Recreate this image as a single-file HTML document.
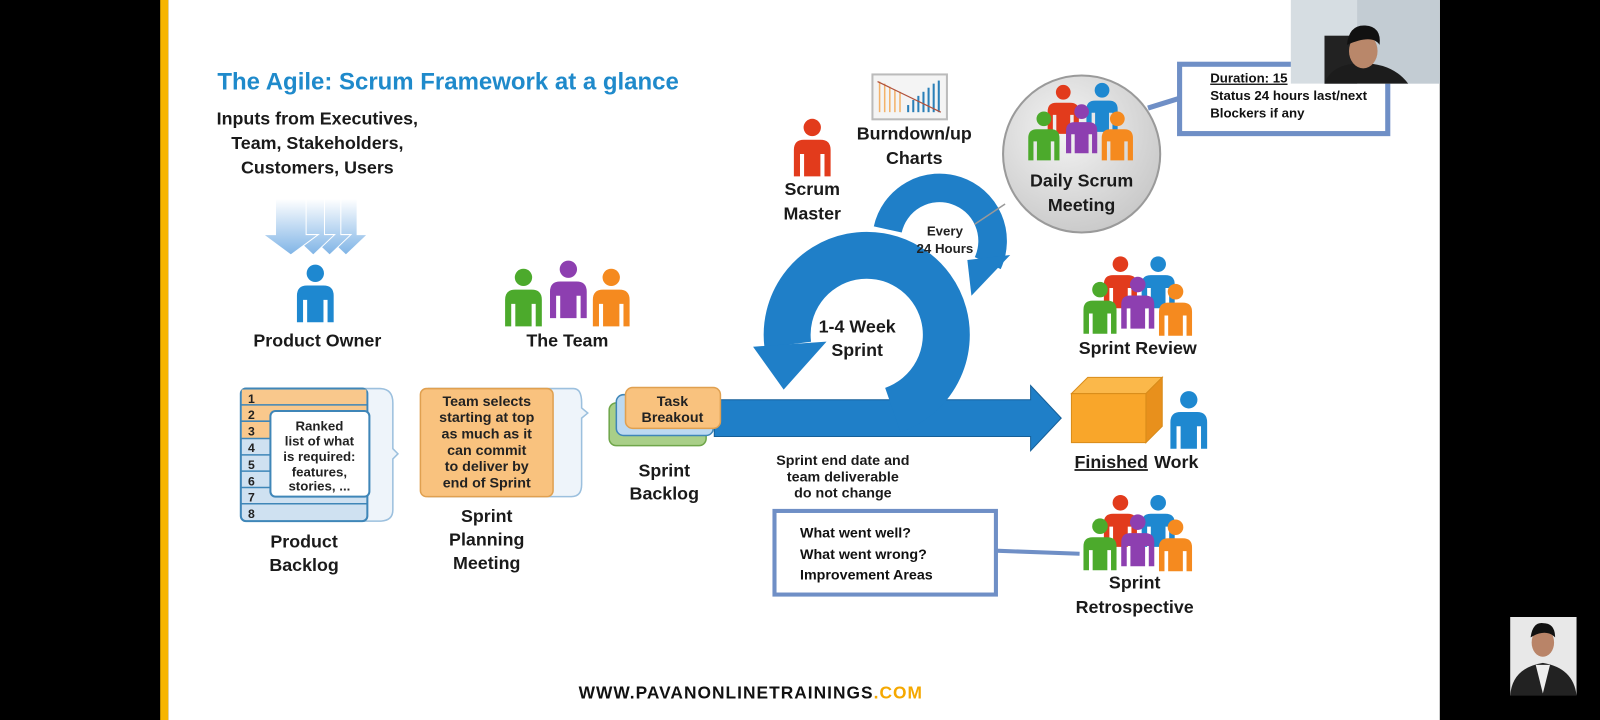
<!DOCTYPE html>
<html><head><meta charset="utf-8"><style>
html,body{margin:0;padding:0;background:#000;width:1600px;height:720px;overflow:hidden}
svg{display:block}
text{font-family:"Liberation Sans",sans-serif;font-weight:bold}
</style></head><body>
<svg width="1600" height="720" viewBox="0 0 1568 706" preserveAspectRatio="none" xmlns="http://www.w3.org/2000/svg">
<defs>
<symbol id="p" viewBox="-20 -10 40 60" overflow="visible">
<circle cx="0" cy="0" r="8.5"/>
<path d="M-18,48 V22 Q-18,12 -8,12 H8 Q18,12 18,22 V48 H12 V26 H8 V48 H-8 V26 H-12 V48 Z"/>
</symbol>
<linearGradient id="arr" x1="0" y1="0" x2="0" y2="1"><stop offset="0" stop-color="#fff"/><stop offset="1" stop-color="#7fb4e6"/></linearGradient>
<radialGradient id="gc" cx="0.4" cy="0.35" r="0.7"><stop offset="0" stop-color="#f4f4f4"/><stop offset="1" stop-color="#c8c8c8"/></radialGradient>
</defs>
<rect x="0" y="0" width="1568" height="706" fill="#000"/>
<rect x="157" y="0" width="8" height="706" fill="#f7b500"/>
<rect x="165" y="0" width="1246" height="706" fill="#fff"/>

<text x="213" y="88" font-size="23.5" fill="#1f8acb">The Agile: Scrum Framework at a glance</text>
<g font-size="17.5" fill="#1a1a1a" text-anchor="middle">
<text x="311" y="122">Inputs from Executives,</text>
<text x="311" y="146">Team, Stakeholders,</text>
<text x="311" y="170">Customers, Users</text>
</g>
<!-- input arrows -->
<g fill="url(#arr)" stroke="#fff" stroke-width="1">
<path d="M328,195 h22 v35 h10 l-21,20 l-21,-20 h10z"/>
<path d="M312,195 h22 v35 h10 l-21,20 l-21,-20 h10z"/>
<path d="M296,195 h22 v35 h10 l-21,20 l-21,-20 h10z"/>
<path d="M270,195 h30 v35 h12 l-27,20 l-27,-20 h12z"/>
</g>
<use href="#p" x="289" y="258" width="40" height="60" fill="#1e88d0"/>
<text x="311" y="340" font-size="17.5" text-anchor="middle" fill="#1a1a1a">Product Owner</text>

<use href="#p" x="537" y="254" width="40" height="60" fill="#8d3fb0"/>
<use href="#p" x="493" y="262" width="40" height="60" fill="#4caa2c"/>
<use href="#p" x="579" y="262" width="40" height="60" fill="#f58a1f"/>
<text x="556" y="340" font-size="17.5" text-anchor="middle" fill="#1a1a1a">The Team</text>

<!-- product backlog -->
<path d="M240,381 H372 Q385,381 385,395 V440 L390,445 L385,450 V500 Q385,511 372,511 H240z" fill="#eef4fa" stroke="#9cc0de" stroke-width="1.5"/>
<rect x="236" y="381" width="124" height="130" rx="5" fill="#cfe1f1" stroke="#3f86b8" stroke-width="2"/>
<rect x="237" y="382" width="122" height="48" fill="#f9c88c"/>
<g stroke="#3f86b8" stroke-width="1.5">
<line x1="236" y1="397" x2="360" y2="397"/><line x1="236" y1="413" x2="360" y2="413"/><line x1="236" y1="430" x2="360" y2="430"/>
<line x1="236" y1="446" x2="360" y2="446"/><line x1="236" y1="462" x2="360" y2="462"/><line x1="236" y1="478" x2="360" y2="478"/><line x1="236" y1="494" x2="360" y2="494"/>
</g>
<g font-size="12" fill="#222">
<text x="243" y="395" font-weight="normal">1</text><text x="243" y="411" font-weight="normal">2</text><text x="243" y="427" font-weight="normal">3</text><text x="243" y="443" font-weight="normal">4</text><text x="243" y="460" font-weight="normal">5</text><text x="243" y="476" font-weight="normal">6</text><text x="243" y="492" font-weight="normal">7</text><text x="243" y="508" font-weight="normal">8</text>
</g>
<rect x="265" y="403" width="97" height="84" rx="5" fill="#fff" stroke="#3f86b8" stroke-width="2"/>
<g font-size="13" fill="#222" text-anchor="middle">
<text x="313" y="422" font-weight="normal">Ranked</text><text x="313" y="437" font-weight="normal">list of what</text><text x="313" y="452" font-weight="normal">is required:</text><text x="313" y="467" font-weight="normal">features,</text><text x="313" y="481" font-weight="normal">stories, ...</text>
</g>
<text x="298" y="537" font-size="17.5" text-anchor="middle" fill="#1a1a1a">Product</text>
<text x="298" y="560" font-size="17.5" text-anchor="middle" fill="#1a1a1a">Backlog</text>

<!-- sprint planning -->
<path d="M420,381 H562 Q570,381 570,395 V400 L576,405 L570,410 V475 Q570,487 560,487 H420z" fill="#eef4fa" stroke="#9cc0de" stroke-width="1.5"/>
<rect x="412" y="381" width="130" height="106" rx="6" fill="#f9c27e" stroke="#e0a050" stroke-width="1.5"/>
<g font-size="14" fill="#222" text-anchor="middle">
<text x="477" y="398" font-weight="normal">Team selects</text><text x="477" y="414" font-weight="normal">starting at top</text><text x="477" y="430" font-weight="normal">as much as it</text><text x="477" y="446" font-weight="normal">can commit</text><text x="477" y="462" font-weight="normal">to deliver by</text><text x="477" y="478" font-weight="normal">end of Sprint</text>
</g>
<g font-size="17.5" fill="#1a1a1a" text-anchor="middle"><text x="477" y="512">Sprint</text><text x="477" y="535">Planning</text><text x="477" y="558">Meeting</text></g>

<!-- big loop & arrow -->
<path d="M700,392 H1010 V378 L1040,410 L1010,442 V428 H700z" fill="#1f7fc8" stroke="#155f98" stroke-width="1"/>
<path d="M875,402 A78,78 0 1 0 772,338" fill="none" stroke="#1f7fc8" stroke-width="46"/>
<path d="M738,340 L810,335 L768,382z" fill="#1f7fc8"/>
<path d="M870,225 A52,52 0 1 1 968,258" fill="none" stroke="#1f7fc8" stroke-width="28"/>
<path d="M948,255 L990,250 L952,290z" fill="#1f7fc8"/>
<line x1="985" y1="200" x2="955" y2="220" stroke="#999" stroke-width="1.5"/>
<text x="926" y="231" font-size="13" text-anchor="middle" fill="#222">Every</text>
<text x="926" y="248" font-size="13" text-anchor="middle" fill="#222">24 Hours</text>
<text x="840" y="326" font-size="17.5" text-anchor="middle" fill="#1a1a1a">1-4 Week</text>
<text x="840" y="349" font-size="17.5" text-anchor="middle" fill="#1a1a1a">Sprint</text>

<!-- sprint backlog -->
<rect x="597" y="395" width="95" height="42" rx="7" fill="#a9cf88" stroke="#6fa64a" stroke-width="1.5"/>
<rect x="604" y="387" width="95" height="40" rx="7" fill="#bcd9f2" stroke="#3f86b8" stroke-width="1.5"/>
<rect x="613" y="380" width="93" height="40" rx="7" fill="#f9c27e" stroke="#e0a050" stroke-width="1.5"/>
<text x="659" y="398" font-size="14" text-anchor="middle" fill="#222" font-weight="normal">Task</text>
<text x="659" y="414" font-size="14" text-anchor="middle" fill="#222" font-weight="normal">Breakout</text>
<text x="651" y="467" font-size="17.5" text-anchor="middle" fill="#1a1a1a">Sprint</text>
<text x="651" y="490" font-size="17.5" text-anchor="middle" fill="#1a1a1a">Backlog</text>

<g font-size="14" fill="#1a1a1a" text-anchor="middle"><text x="826" y="456">Sprint end date and</text><text x="826" y="472">team deliverable</text><text x="826" y="488">do not change</text></g>

<!-- scrum master / charts -->
<use href="#p" x="776" y="115" width="40" height="60" fill="#e23b1c"/>
<text x="796" y="191" font-size="17.5" text-anchor="middle" fill="#1a1a1a">Scrum</text>
<text x="796" y="215" font-size="17.5" text-anchor="middle" fill="#1a1a1a">Master</text>
<rect x="855" y="73" width="73" height="44" fill="#f4f4f4" stroke="#bbb" stroke-width="2"/>
<g stroke="#f3b26a" stroke-width="1.5"><line x1="862" y1="80" x2="862" y2="110"/><line x1="867" y1="82" x2="867" y2="110"/><line x1="872" y1="85" x2="872" y2="110"/><line x1="877" y1="88" x2="877" y2="110"/><line x1="882" y1="90" x2="882" y2="110"/></g>
<g stroke="#2a7fb8" stroke-width="2"><line x1="890" y1="103" x2="890" y2="110"/><line x1="895" y1="98" x2="895" y2="110"/><line x1="900" y1="94" x2="900" y2="110"/><line x1="905" y1="90" x2="905" y2="110"/><line x1="910" y1="86" x2="910" y2="110"/><line x1="915" y1="82" x2="915" y2="110"/><line x1="920" y1="79" x2="920" y2="110"/></g>
<line x1="860" y1="80" x2="922" y2="110" stroke="#b0503a" stroke-width="1.2"/>
<text x="896" y="137" font-size="17.5" text-anchor="middle" fill="#1a1a1a">Burndown/up</text>
<text x="896" y="161" font-size="17.5" text-anchor="middle" fill="#1a1a1a">Charts</text>

<!-- daily scrum -->
<circle cx="1060" cy="151" r="77" fill="url(#gc)" stroke="#9a9a9a" stroke-width="2"/>
<use href="#p" x="1025" y="82" width="34" height="51" fill="#e23b1c"/>
<use href="#p" x="1063" y="80" width="34" height="51" fill="#1e88d0"/>
<use href="#p" x="1006" y="108" width="34" height="51" fill="#4caa2c"/>
<use href="#p" x="1043" y="101" width="34" height="51" fill="#8d3fb0"/>
<use href="#p" x="1078" y="108" width="34" height="51" fill="#f58a1f"/>
<text x="1060" y="183" font-size="17.5" text-anchor="middle" fill="#1a1a1a">Daily Scrum</text>
<text x="1060" y="207" font-size="17.5" text-anchor="middle" fill="#1a1a1a">Meeting</text>

<!-- top-right box -->
<line x1="1125" y1="106" x2="1157" y2="96" stroke="#6f8fc6" stroke-width="5"/>
<rect x="1156" y="63" width="204" height="68" fill="#fff" stroke="#6f8fc6" stroke-width="5"/>
<text x="1186" y="81" font-size="13" fill="#111" text-decoration="underline">Duration: 15</text>
<text x="1186" y="98" font-size="13" fill="#111">Status 24 hours last/next</text>
<text x="1186" y="115" font-size="13" fill="#111">Blockers if any</text>
<!-- webcam -->
<rect x="1265" y="0" width="146" height="82" fill="#d6dde2"/>
<rect x="1330" y="0" width="81" height="82" fill="#c3ccd3"/>
<rect x="1298" y="35" width="32" height="47" fill="#222"/>
<path d="M1298,82 Q1305,62 1335,62 Q1365,62 1380,82z" fill="#1c1c1c"/>
<ellipse cx="1336" cy="50" rx="14" ry="17" fill="#b9876a"/>
<path d="M1320,44 Q1322,24 1338,25 Q1354,26 1352,44 Q1345,33 1320,44z" fill="#111"/>

<!-- sprint review -->
<use href="#p" x="1080" y="250" width="36" height="54" fill="#e23b1c"/>
<use href="#p" x="1117" y="250" width="36" height="54" fill="#1e88d0"/>
<use href="#p" x="1060" y="275" width="36" height="54" fill="#4caa2c"/>
<use href="#p" x="1097" y="270" width="36" height="54" fill="#8d3fb0"/>
<use href="#p" x="1134" y="277" width="36" height="54" fill="#f58a1f"/>
<text x="1115" y="347" font-size="17.5" text-anchor="middle" fill="#1a1a1a">Sprint Review</text>

<!-- finished work -->
<path d="M1050,386 L1066,370 H1139 L1123,386z" fill="#fbb84a" stroke="#d98c1a"/>
<path d="M1123,386 L1139,370 V418 L1123,434z" fill="#e8901c" stroke="#d98c1a"/>
<rect x="1050" y="386" width="73" height="48" fill="#f9a62a" stroke="#d98c1a"/>
<use href="#p" x="1145" y="382" width="40" height="60" fill="#1e88d0"/>
<text x="1053" y="459" font-size="17.5" fill="#1a1a1a" text-decoration="underline">Finished</text><text x="1131" y="459" font-size="17.5" fill="#1a1a1a">Work</text>

<!-- retrospective -->
<line x1="976" y1="540" x2="1058" y2="543" stroke="#6f8fc6" stroke-width="4"/>
<rect x="759" y="501" width="217" height="82" fill="#fff" stroke="#6f8fc6" stroke-width="4"/>
<g font-size="14" fill="#111"><text x="784" y="527">What went well?</text><text x="784" y="548">What went wrong?</text><text x="784" y="568">Improvement Areas</text></g>
<use href="#p" x="1080" y="484" width="36" height="54" fill="#e23b1c"/>
<use href="#p" x="1117" y="484" width="36" height="54" fill="#1e88d0"/>
<use href="#p" x="1060" y="507" width="36" height="54" fill="#4caa2c"/>
<use href="#p" x="1097" y="503" width="36" height="54" fill="#8d3fb0"/>
<use href="#p" x="1134" y="508" width="36" height="54" fill="#f58a1f"/>
<text x="1112" y="577" font-size="17.5" text-anchor="middle" fill="#1a1a1a">Sprint</text>
<text x="1112" y="601" font-size="17.5" text-anchor="middle" fill="#1a1a1a">Retrospective</text>

<text x="567" y="685" font-size="17" fill="#111" font-family="Liberation Mono" letter-spacing="1">WWW.PAVANONLINETRAININGS<tspan fill="#f5a800">.COM</tspan></text>

<!-- bottom right photo -->
<rect x="1480" y="605" width="65" height="77" fill="#e8e8e8"/>
<path d="M1480,682 Q1482,655 1512,650 Q1542,655 1545,682z" fill="#222"/>
<path d="M1505,652 L1512,680 L1519,652z" fill="#eee"/>
<ellipse cx="1512" cy="630" rx="11" ry="14" fill="#b98468"/>
<path d="M1500,625 Q1502,610 1512,611 Q1524,611 1524,625 Q1515,616 1500,625z" fill="#111"/>
</svg>
</body></html>
